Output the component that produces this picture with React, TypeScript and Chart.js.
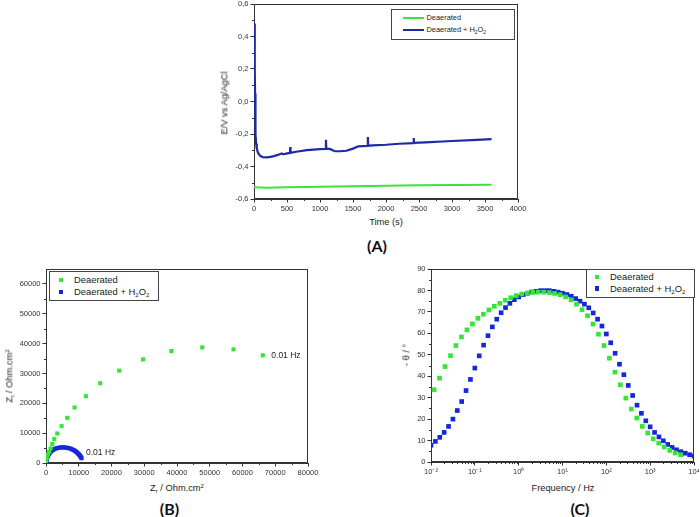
import React, { useEffect, useRef } from 'react';
import { Chart, registerables } from 'chart.js';
Chart.register(...registerables);

// ---------- (A) Open circuit potential vs time ----------
const A_TIME_DEAER = [0, 200, 500, 1000, 1500, 2000, 2500, 3000, 3600];
const A_E_DEAER = [-0.528, -0.531, -0.528, -0.524, -0.521, -0.518, -0.516, -0.514, -0.512];
const A_TIME_H2O2 = [8, 10, 13, 16, 20, 25, 32, 42, 60, 90, 130, 190, 250, 300, 350, 400, 420, 440, 470, 520, 545, 549, 553, 640, 800, 1000, 1085, 1090, 1095, 1150, 1200, 1230, 1300, 1400, 1500, 1580, 1720, 1725, 1730, 1800, 2000, 2200, 2415, 2420, 2425, 2600, 3000, 3300, 3600];
const A_E_H2O2 = [0.48, 0.35, 0.2, 0.05, -0.1, -0.2, -0.26, -0.29, -0.315, -0.333, -0.342, -0.344, -0.341, -0.336, -0.33, -0.323, -0.32, -0.324, -0.322, -0.318, -0.316, -0.28, -0.316, -0.309, -0.299, -0.293, -0.291, -0.235, -0.29, -0.292, -0.302, -0.306, -0.306, -0.303, -0.29, -0.276, -0.273, -0.218, -0.272, -0.27, -0.266, -0.26, -0.256, -0.225, -0.255, -0.251, -0.243, -0.238, -0.232];
const A_XTICKS = [0, 500, 1000, 1500, 2000, 2500, 3000, 3500, 4000];
const A_YTICKS = [-0.6, -0.4, -0.2, 0, 0.2, 0.4, 0.6];

// ---------- (B) Nyquist ----------
const B_ZR_DEAER = [40, 120, 300, 610, 1000, 1400, 1920, 2530, 3450, 4760, 6500, 8720, 12180, 16550, 22340, 29640, 38270, 47720, 57260, 66200];
const B_ZI_DEAER = [600, 1300, 2000, 2900, 3780, 4900, 6340, 8010, 9900, 12350, 15130, 18600, 22380, 26720, 30950, 34730, 37510, 38740, 38070, 36070];
const B_ZR_H2O2 = [20, 45, 80, 130, 200, 290, 400, 540, 710, 910, 1150, 1430, 1750, 2120, 2530, 2980, 3460, 3960, 4480, 5000, 5520, 6040, 6550, 7050, 7530, 7980, 8400, 8790, 9150, 9480, 9780, 10050, 10290, 10500, 10690, 10850];
const B_ZI_H2O2 = [150, 330, 560, 850, 1180, 1540, 1910, 2290, 2680, 3060, 3430, 3780, 4100, 4390, 4640, 4850, 5010, 5130, 5200, 5230, 5220, 5170, 5080, 4950, 4780, 4580, 4350, 4090, 3810, 3510, 3200, 2890, 2570, 2250, 1930, 1620];
const B_XTICKS = [0, 10000, 20000, 30000, 40000, 50000, 60000, 70000, 80000];
const B_YTICKS = [0, 10000, 20000, 30000, 40000, 50000, 60000];

// ---------- (C) Bode phase ----------
const C_FREQ_DEAER = [0.01175, 0.01567, 0.02089, 0.02786, 0.03715, 0.04955, 0.06607, 0.0881, 0.1175, 0.1567, 0.2089, 0.2786, 0.3715, 0.4955, 0.6607, 0.881, 1.175, 1.567, 2.089, 2.786, 3.715, 4.955, 6.607, 8.81, 11.75, 15.67, 20.89, 27.86, 37.15, 49.55, 66.07, 88.1, 117.5, 156.7, 208.9, 278.6, 371.5, 495.5, 660.7, 881, 1175, 1567, 2089, 2786, 3715, 4955];
const C_PHASE_DEAER = [33.7, 39.1, 44.5, 49.6, 54.3, 58.3, 61.6, 64.4, 67.0, 68.9, 70.9, 72.6, 74.0, 75.4, 76.6, 77.6, 78.3, 78.8, 79.1, 79.2, 79.2, 79.0, 78.6, 78.0, 77.0, 75.6, 73.6, 71.0, 68.2, 64.3, 59.6, 54.3, 48.4, 41.9, 36.0, 29.8, 24.7, 20.5, 16.6, 13.5, 10.8, 8.8, 7.0, 5.4, 4.2, 3.4];
const C_FREQ_H2O2 = [0.01, 0.01259, 0.01585, 0.01995, 0.02512, 0.03162, 0.03981, 0.05012, 0.0631, 0.07943, 0.1, 0.1259, 0.1585, 0.1995, 0.2512, 0.3162, 0.3981, 0.5012, 0.631, 0.7943, 1, 1.259, 1.585, 1.995, 2.512, 3.162, 3.981, 5.012, 6.31, 7.943, 10, 12.59, 15.85, 19.95, 25.12, 31.62, 39.81, 50.12, 63.1, 79.43, 100, 125.9, 158.5, 199.5, 251.2, 316.2, 398.1, 501.2, 631, 794.3, 1000, 1259, 1585, 1995, 2512, 3162, 3981, 5012, 6310, 7943, 10000];
const C_PHASE_H2O2 = [7.8, 9.6, 11.5, 13.8, 16.6, 20.0, 24.0, 28.2, 33.3, 38.5, 43.8, 49.5, 54.5, 58.9, 63.0, 66.6, 69.6, 72.0, 74.0, 75.7, 77.0, 78.0, 78.7, 79.3, 79.6, 79.9, 79.9, 79.9, 79.6, 79.2, 78.7, 78.1, 77.3, 76.2, 75.0, 73.6, 71.9, 69.5, 66.6, 63.4, 59.7, 55.6, 50.7, 45.6, 40.7, 35.7, 31.0, 26.5, 22.7, 19.2, 16.4, 13.8, 11.7, 9.9, 8.2, 6.8, 5.7, 4.8, 4.1, 3.4, 2.8];
const C_XTICKS = [0.01, 0.1, 1, 10, 100, 1000, 10000];
const C_XTICK_LABELS = ['10\u207B\u00B2', '10\u207B\u00B9', '10\u2070', '10\u00B9', '10\u00B2', '10\u00B3', '10\u2074'];
const C_YTICKS = [0, 10, 20, 30, 40, 50, 60, 70, 80, 90];

const FONT = "'Liberation Sans', Arial, Helvetica, sans-serif";
const AXIS = '#333';
const GREEN_LINE = '#3fe03f';
const BLUE_LINE = '#1c2aa6';
const GREEN_PT = '#33e633';
const BLUE_PT = '#1428d8';

type Rect = { left: number; top: number; width: number; height: number };
type Plot = { l: number; t: number; r: number; b: number };

const decoPlugin = {
  id: 'deco',
  beforeDatasetsDraw(chart: any, _args: any, opts: any) {
    const { ctx, chartArea: a } = chart;
    const xs = chart.scales.x;
    const ys = chart.scales.y;
    ctx.save();
    ctx.strokeStyle = AXIS;
    ctx.lineWidth = 1;
    const L = Math.round(a.left) + 0.5;
    const T = Math.round(a.top) + 0.5;
    const R = Math.round(a.right) - 0.5;
    const B = Math.round(a.bottom) - 0.5;
    ctx.strokeRect(L, T, R - L, B - T);
    ctx.beginPath();
    (opts.xMinor || []).forEach((v: number) => {
      const px = Math.round(xs.getPixelForValue(v)) + 0.5;
      ctx.moveTo(px, B);
      ctx.lineTo(px, B + 2.5);
    });
    (opts.yMinor || []).forEach((v: number) => {
      const py = Math.round(ys.getPixelForValue(v)) + 0.5;
      ctx.moveTo(L, py);
      ctx.lineTo(L - 2.5, py);
    });
    ctx.stroke();
    ctx.restore();
  },
  afterDatasetsDraw(chart: any, _args: any, opts: any) {
    const { ctx } = chart;
    (opts.labels || []).forEach((lb: any) => {
      const meta = chart.getDatasetMeta(lb.dataset);
      const el = meta.data[meta.data.length - 1];
      if (!el) return;
      ctx.save();
      ctx.font = `${lb.size}px ${FONT}`;
      ctx.fillStyle = '#222';
      ctx.textBaseline = 'middle';
      ctx.textAlign = 'left';
      ctx.fillText(lb.text, el.x + lb.dx, el.y + lb.dy);
      ctx.restore();
    });
  },
};

function axis(kind: 'x' | 'y', size: number, ticks: number[], extra: any, labelFn: (v: number, i: number) => string) {
  return {
    ...extra,
    grid: { drawOnChartArea: false, drawTicks: true, tickLength: 3.5, color: AXIS, lineWidth: 1 },
    border: { display: true, color: AXIS, width: 1 },
    ticks: {
      font: { family: FONT, size: 7.5 },
      color: '#333',
      padding: 2,
      maxRotation: 0,
      minRotation: 0,
      autoSkip: false,
      callback: (v: any, i: number) => labelFn(Number(v), i),
    },
    afterBuildTicks: (s: any) => {
      s.ticks = ticks.map((v) => ({ value: v }));
    },
    afterFit: (s: any) => {
      if (kind === 'y') s.width = size;
      else s.height = size;
      s.paddingTop = 0;
      s.paddingBottom = 0;
      s.paddingLeft = 0;
      s.paddingRight = 0;
    },
  };
}

function baseOptions(rect: Rect, plot: Plot) {
  return {
    layout: {
      padding: {
        left: 0,
        top: plot.t - rect.top,
        right: rect.left + rect.width - plot.r,
        bottom: 0,
      },
    },
    yWidth: plot.l - rect.left,
    xHeight: rect.top + rect.height - plot.b,
  };
}

function mids(arr: number[]) {
  const out: number[] = [];
  for (let i = 0; i < arr.length - 1; i++) out.push((arr[i] + arr[i + 1]) / 2);
  return out;
}

const RECT_A: Rect = { left: 200, top: 0, width: 330, height: 215 };
const PLOT_A: Plot = { l: 254, t: 4, r: 518, b: 199 };
const RECT_B: Rect = { left: 0, top: 262, width: 322, height: 220 };
const PLOT_B: Plot = { l: 46, t: 269, r: 308, b: 463 };
const RECT_C: Rect = { left: 380, top: 262, width: 320, height: 220 };
const PLOT_C: Plot = { l: 431, t: 269, r: 694, b: 462 };

function common(b: any, deco: any) {
  return {
    responsive: false,
    animation: false,
    events: [],
    layout: b.layout,
    plugins: {
      legend: { display: false },
      tooltip: { enabled: false },
      deco,
    },
  };
}

function configA() {
  const b = baseOptions(RECT_A, PLOT_A);
  const fmt = (v: number) => (Math.abs(v) < 1e-9 ? '0,0' : v.toFixed(1).replace('.', ','));
  return {
    type: 'scatter',
    data: {
      datasets: [
        {
          label: 'Deaerated',
          data: A_TIME_DEAER.map((t, i) => ({ x: t, y: A_E_DEAER[i] })),
          showLine: true,
          borderColor: GREEN_LINE,
          backgroundColor: GREEN_LINE,
          borderWidth: 2,
          pointRadius: 0,
          tension: 0,
        },
        {
          label: 'Deaerated + H2O2',
          data: A_TIME_H2O2.map((t, i) => ({ x: t, y: A_E_H2O2[i] })),
          showLine: true,
          borderColor: BLUE_LINE,
          backgroundColor: BLUE_LINE,
          borderWidth: 2.2,
          pointRadius: 0,
          tension: 0,
        },
      ],
    },
    options: {
      ...common(b, { xMinor: mids(A_XTICKS), yMinor: mids(A_YTICKS) }),
      scales: {
        x: axis('x', b.xHeight, A_XTICKS, { type: 'linear', min: 0, max: 4000 }, (v) => String(v)),
        y: axis('y', b.yWidth, A_YTICKS, { type: 'linear', min: -0.6, max: 0.6 }, fmt),
      },
    },
    plugins: [decoPlugin],
  };
}

function configB() {
  const b = baseOptions(RECT_B, PLOT_B);
  return {
    type: 'scatter',
    data: {
      datasets: [
        {
          label: 'Deaerated',
          data: B_ZR_DEAER.map((x, i) => ({ x, y: B_ZI_DEAER[i] })),
          pointStyle: 'rect',
          pointRadius: 2.9,
          borderWidth: 0,
          backgroundColor: GREEN_PT,
          borderColor: GREEN_PT,
        },
        {
          label: 'Deaerated + H2O2',
          data: B_ZR_H2O2.map((x, i) => ({ x, y: B_ZI_H2O2[i] })),
          pointStyle: 'rect',
          pointRadius: 2.9,
          borderWidth: 0,
          backgroundColor: BLUE_PT,
          borderColor: BLUE_PT,
        },
      ],
    },
    options: {
      ...common(b, {
        xMinor: mids(B_XTICKS),
        yMinor: mids(B_YTICKS),
        labels: [
          { dataset: 0, text: '0.01 Hz', dx: 8.5, dy: 0, size: 8.5 },
          { dataset: 1, text: '0.01 Hz', dx: 4.5, dy: -6, size: 8.5 },
        ],
      }),
      scales: {
        x: axis('x', b.xHeight, B_XTICKS, { type: 'linear', min: 0, max: 80000 }, (v) => String(v)),
        y: axis('y', b.yWidth, B_YTICKS, { type: 'linear', min: 0, max: 65000 }, (v) => String(v)),
      },
    },
    plugins: [decoPlugin],
  };
}

function configC() {
  const b = baseOptions(RECT_C, PLOT_C);
  const xMinor: number[] = [];
  for (let d = 0; d < C_XTICKS.length - 1; d++) {
    for (let k = 2; k <= 9; k++) xMinor.push(C_XTICKS[d] * k);
  }
  return {
    type: 'scatter',
    data: {
      datasets: [
        {
          label: 'Deaerated',
          data: C_FREQ_DEAER.map((x, i) => ({ x, y: C_PHASE_DEAER[i] })),
          pointStyle: 'rect',
          pointRadius: 3.3,
          borderWidth: 0,
          backgroundColor: GREEN_PT,
          borderColor: GREEN_PT,
        },
        {
          label: 'Deaerated + H2O2',
          data: C_FREQ_H2O2.map((x, i) => ({ x, y: C_PHASE_H2O2[i] })),
          pointStyle: 'rect',
          pointRadius: 3.3,
          borderWidth: 0,
          backgroundColor: BLUE_PT,
          borderColor: BLUE_PT,
        },
      ],
    },
    options: {
      ...common(b, { xMinor, yMinor: mids(C_YTICKS) }),
      scales: {
        x: axis('x', b.xHeight, C_XTICKS, { type: 'logarithmic', min: 0.01, max: 10000 }, (_v, i) => C_XTICK_LABELS[i]),
        y: axis('y', b.yWidth, C_YTICKS, { type: 'linear', min: 0, max: 90 }, (v) => String(v)),
      },
    },
    plugins: [decoPlugin],
  };
}

function ChartCanvas({ rect, make }: { rect: Rect; make: () => any }) {
  const ref = useRef<HTMLCanvasElement>(null);
  useEffect(() => {
    const chart = new Chart(ref.current as HTMLCanvasElement, make());
    return () => chart.destroy();
  }, []);
  return (
    <canvas
      ref={ref}
      width={rect.width}
      height={rect.height}
      style={{ position: 'absolute', left: rect.left, top: rect.top, width: rect.width, height: rect.height }}
    />
  );
}

const base: React.CSSProperties = {
  position: 'absolute',
  fontFamily: FONT,
  color: '#222',
  whiteSpace: 'nowrap',
  lineHeight: 1,
};

function Centered({ x, y, size, rotate, bold, family, children }: any) {
  return (
    <div
      style={{
        ...base,
        left: x,
        top: y,
        fontSize: size,
        fontWeight: bold ? 700 : 400,
        fontFamily: family || FONT,
        color: bold ? '#111' : '#222',
        transform: `translate(-50%, -50%)${rotate ? ' rotate(-90deg)' : ''}`,
      }}
    >
      {children}
    </div>
  );
}

function Left({ x, y, size, children }: any) {
  return (
    <div style={{ ...base, left: x, top: y, fontSize: size, transform: 'translateY(-50%)' }}>{children}</div>
  );
}

const subStyle: React.CSSProperties = { fontSize: '0.65em', verticalAlign: '-0.3em', lineHeight: 0 };
const supStyle: React.CSSProperties = { fontSize: '0.65em', verticalAlign: '0.5em', lineHeight: 0 };

function H2O2() {
  return (
    <span>
      Deaerated + H<span style={subStyle}>2</span>O<span style={subStyle}>2</span>
    </span>
  );
}

function Box({ l, t, w, h }: any) {
  return (
    <div
      style={{
        position: 'absolute',
        left: l,
        top: t,
        width: w,
        height: h,
        border: '1px solid #444',
        boxSizing: 'border-box',
        background: '#fff',
      }}
    />
  );
}

function Sq({ x, y, s, color }: any) {
  return <div style={{ position: 'absolute', left: x - s / 2, top: y - s / 2, width: s, height: s, background: color }} />;
}

export default function App() {
  return (
    <div style={{ position: 'absolute', left: 0, top: 0, width: 700, height: 517, background: '#fff', overflow: 'hidden' }}>
      <ChartCanvas rect={RECT_A} make={configA} />
      <ChartCanvas rect={RECT_B} make={configB} />
      <ChartCanvas rect={RECT_C} make={configC} />

      {/* (A) texts */}
      <Centered x={224.5} y={103} size={9.3} rotate>E/V vs Ag/AgCl</Centered>
      <Centered x={386} y={222.5} size={9.3}>Time (s)</Centered>
      <Centered x={377} y={246} size={16} bold family="Lato, 'Open Sans', sans-serif">(A)</Centered>
      <Box l={391} t={9} w={124} h={31} />
      <div style={{ position: 'absolute', left: 402.5, top: 17.3, width: 21.5, height: 2, background: GREEN_LINE }} />
      <div style={{ position: 'absolute', left: 402.5, top: 29, width: 21.5, height: 2, background: BLUE_LINE }} />
      <Left x={426.5} y={18.3} size={7.4}>Deaerated</Left>
      <Left x={426.5} y={30} size={7.4}><H2O2 /></Left>

      {/* (B) texts */}
      <Centered x={9.5} y={376} size={9.3} rotate>
        Z<span style={subStyle}>i</span> / Ohm.cm<span style={supStyle}>2</span>
      </Centered>
      <Centered x={177} y={489} size={9.3}>
        Z<span style={subStyle}>r</span> / Ohm.cm<span style={supStyle}>2</span>
      </Centered>
      <Centered x={169.5} y={509} size={16} bold family="Lato, 'Open Sans', sans-serif">(B)</Centered>
      <Box l={49} t={270.5} w={109.5} h={30.5} />
      <Sq x={61} y={280} s={4.6} color={GREEN_PT} />
      <Sq x={61} y={292} s={4.6} color={BLUE_PT} />
      <Left x={74} y={280} size={9.4}>Deaerated</Left>
      <Left x={74} y={292} size={9.4}><H2O2 /></Left>

      {/* (C) texts */}
      <Centered x={406.5} y={355} size={9.3} rotate>- θ / °</Centered>
      <Centered x={563} y={489} size={9.3}>Frequency / Hz</Centered>
      <Centered x={580} y={509} size={16} bold family="Lato, 'Open Sans', sans-serif">(C)</Centered>
      <Box l={585.5} t={269} w={109} h={29} />
      <Sq x={597} y={277} s={4.6} color={GREEN_PT} />
      <Sq x={597} y={288.7} s={4.6} color={BLUE_PT} />
      <Left x={610} y={277} size={9.4}>Deaerated</Left>
      <Left x={610} y={288.7} size={9.4}><H2O2 /></Left>
    </div>
  );
}
